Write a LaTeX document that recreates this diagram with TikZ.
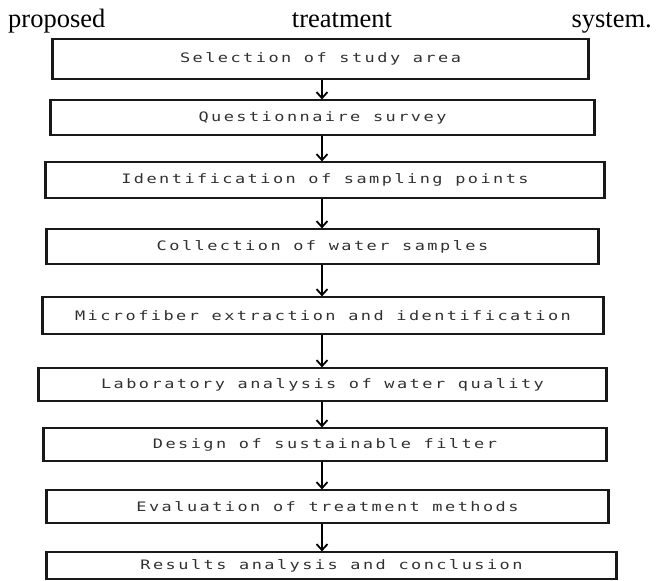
\documentclass[tikz,border=0pt]{standalone}
\usepackage{fontspec}
\setmainfont{Liberation Serif}
\newfontfamily\boxfont[FakeStretch=1.3,LetterSpace=19]{DejaVu Sans Mono}
\usetikzlibrary{arrows.meta}
\definecolor{boxtext}{HTML}{303030}
\tikzset{
  stepbox/.style={draw=black!90, line width=1.2pt, inner sep=0pt, anchor=center,
    font=\boxfont\fontsize{13}{15}\selectfont, text=boxtext},
  side/.style={draw=black!90, line width=2.2pt},
  arr/.style={draw=black, line width=1.8pt, -{Straight Barb[length=6pt,width=11pt,line width=1.8pt]}},
  title/.style={font=\fontsize{26.5}{30}\selectfont, inner sep=0pt}
}
\newcommand{\mkbox}[6]{% name, l, t, r, b, text
  \node[stepbox, minimum width={#4-#2}, minimum height={#5-#3}] (#1) at ({(#2+#4)/2},{(#3+#5)/2}) {#6};
  \draw[side] (#1.north west) -- (#1.south west);
  \draw[side] (#1.north east) -- (#1.south east);
}
\begin{document}
\begin{tikzpicture}[x=1pt,y=-1pt]
\useasboundingbox (0,0) rectangle (659,581);
\node[title, anchor=base west] (t1) at (8,27) {proposed};
\node[title, anchor=base] (t2) at (342,27) {treatment};
\node[title, anchor=base east] (t3) at (652,27) {system.};
\mkbox{b1}{53}{39}{588}{79}{Selection of study area}
\mkbox{b2}{51}{100}{594}{135}{Questionnaire survey}
\mkbox{b3}{46}{162}{604}{198}{Identification of sampling points}
\mkbox{b4}{47}{229}{598}{264}{Collection of water samples}
\mkbox{b5}{43}{297}{603}{334}{Microfiber extraction and identification}
\mkbox{b6}{39}{368}{606}{401}{Laboratory analysis of water quality}
\mkbox{b7}{44}{428}{606}{461}{Design of sustainable filter}
\mkbox{b8}{47}{490}{608}{523}{Evaluation of treatment methods}
\mkbox{b9}{47}{552}{616}{579}{Results analysis and conclusion}
\coordinate (ax) at (322,0);
\foreach \a/\b in {b1/b2,b2/b3,b3/b4,b4/b5,b5/b6,b6/b7,b7/b8,b8/b9}{
  \draw[arr] (\a.south -| ax) -- (\b.north -| ax);
}
\end{tikzpicture}
\end{document}
